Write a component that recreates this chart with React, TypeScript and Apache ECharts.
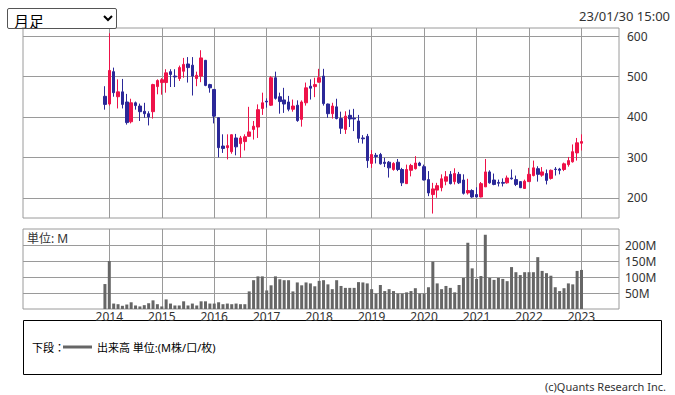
import React, { useEffect, useRef } from "react";
import * as echarts from "echarts";

const months = [
  "2013-12",
  "2014-01","2014-02","2014-03","2014-04","2014-05","2014-06","2014-07","2014-08","2014-09","2014-10","2014-11","2014-12",
  "2015-01","2015-02","2015-03","2015-04","2015-05","2015-06","2015-07","2015-08","2015-09","2015-10","2015-11","2015-12",
  "2016-01","2016-02","2016-03","2016-04","2016-05","2016-06","2016-07","2016-08","2016-09","2016-10","2016-11","2016-12",
  "2017-01","2017-02","2017-03","2017-04","2017-05","2017-06","2017-07","2017-08","2017-09","2017-10","2017-11","2017-12",
  "2018-01","2018-02","2018-03","2018-04","2018-05","2018-06","2018-07","2018-08","2018-09","2018-10","2018-11","2018-12",
  "2019-01","2019-02","2019-03","2019-04","2019-05","2019-06","2019-07","2019-08","2019-09","2019-10","2019-11","2019-12",
  "2020-01","2020-02","2020-03","2020-04","2020-05","2020-06","2020-07","2020-08","2020-09","2020-10","2020-11","2020-12",
  "2021-01","2021-02","2021-03","2021-04","2021-05","2021-06","2021-07","2021-08","2021-09","2021-10","2021-11","2021-12",
  "2022-01","2022-02","2022-03","2022-04","2022-05","2022-06","2022-07","2022-08","2022-09","2022-10","2022-11","2022-12",
  "2023-01",
];

const opens = [
  451,
  432, 512, 450, 462, 437, 388, 435, 427, 414, 408, 413, 475,
  485, 485, 512, 501, 495, 513, 531, 528, 495, 501, 540, 480,
  468, 398, 328, 324, 314, 348, 334, 339, 352, 369, 375, 421,
  439, 429, 497, 450, 442, 437, 419, 429, 394, 435, 476, 475,
  486, 501, 432, 408, 425, 396, 369, 404, 397, 390, 348, 352,
  285, 305, 307, 288, 288, 270, 288, 270, 235, 268, 272, 286,
  277, 245, 208, 219, 225, 241, 258, 240, 258, 244, 212, 218,
  208, 202, 227, 264, 244, 238, 238, 237, 249, 245, 240, 223,
  240, 255, 272, 256, 260, 248, 271, 271, 270, 282, 289, 311,
  335,
];

const closes = [
  431,
  515, 460, 462, 431, 386, 435, 428, 413, 408, 400, 480, 490,
  492, 509, 505, 499, 522, 530, 522, 501, 503, 546, 478, 472,
  402, 324, 322, 329, 356, 326, 348, 351, 363, 377, 418, 435,
  437, 497, 446, 438, 432, 419, 427, 391, 437, 472, 471, 480,
  497, 433, 408, 427, 396, 372, 402, 395, 395, 347, 346, 292,
  307, 302, 284, 285, 274, 285, 270, 237, 270, 280, 286, 280,
  244, 212, 222, 230, 247, 252, 235, 260, 237, 211, 218, 202,
  202, 235, 264, 237, 233, 236, 236, 249, 247, 233, 225, 241,
  258, 274, 258, 264, 243, 268, 270, 268, 284, 292, 314, 336,
  339,
];

const lows = [
  418,
  428, 450, 421, 421, 381, 384, 418, 390, 398, 379, 396, 456,
  455, 460, 474, 474, 489, 497, 485, 453, 476, 486, 476, 460,
  384, 300, 311, 295, 309, 305, 299, 317, 351, 344, 348, 405,
  423, 427, 443, 408, 410, 414, 413, 388, 376, 428, 443, 449,
  485, 428, 398, 396, 394, 358, 358, 375, 365, 336, 334, 274,
  274, 285, 282, 276, 250, 267, 266, 229, 235, 253, 270, 278,
  243, 204, 161, 200, 216, 231, 233, 233, 234, 208, 208, 200,
  201, 201, 227, 235, 231, 228, 228, 235, 245, 229, 224, 222,
  239, 253, 240, 252, 233, 245, 255, 258, 266, 277, 287, 292,
  317,
];

const highs = [
  476,
  607, 522, 493, 494, 457, 445, 438, 433, 435, 414, 482, 493,
  496, 518, 518, 518, 527, 546, 548, 548, 512, 565, 541, 482,
  469, 399, 357, 357, 357, 358, 353, 357, 425, 390, 431, 460,
  446, 501, 512, 460, 472, 452, 443, 441, 441, 485, 493, 497,
  519, 519, 433, 435, 445, 413, 414, 418, 420, 405, 355, 358,
  318, 311, 311, 299, 291, 288, 296, 274, 282, 284, 303, 289,
  282, 266, 237, 237, 258, 266, 266, 273, 264, 258, 247, 221,
  226, 239, 296, 268, 260, 245, 248, 255, 270, 255, 241, 245,
  274, 292, 278, 276, 270, 270, 276, 274, 287, 301, 332, 348,
  357,
];

// 出来高 (M)
const volumes = [
  78,
  150, 17, 15, 10, 14, 21, 11, 8, 12, 18, 27, 15,
  8, 30, 17, 11, 11, 24, 11, 17, 11, 24, 24, 17,
  17, 21, 15, 17, 15, 17, 15, 15, 55, 90, 102, 102,
  58, 74, 102, 93, 90, 90, 55, 83, 74, 83, 80, 71,
  88, 90, 77, 62, 90, 72, 66, 66, 66, 84, 83, 80,
  62, 48, 75, 56, 62, 56, 48, 48, 52, 56, 65, 48,
  48, 68, 148, 80, 62, 72, 66, 52, 75, 97, 207, 127,
  94, 103, 232, 97, 91, 97, 94, 87, 131, 115, 106, 115,
  115, 115, 162, 119, 112, 104, 68, 56, 65, 80, 77, 119,
  122,
];

const yearLabels = ["2014", "2015", "2016", "2017", "2018", "2019", "2020", "2021", "2022", "2023"];
const priceTicks = [200, 300, 400, 500, 600];
const volumeTicks = [50, 100, 150, 200];

const BASE_YEAR = 2014;
const monthIndex = (s: string) => {
  const [y, m] = s.split("-").map(Number);
  return (y - BASE_YEAR) * 12 + (m - 1);
};
const yearPositions = yearLabels.map((y) => monthIndex(`${y}-01`));

const UP = "#EE1249";
const DOWN = "#2B2898";
const GRID = "#9a9a9a";
const FONT = "'Noto Sans', 'Noto Sans CJK JP', sans-serif";

export default function App() {
  const ref = useRef<HTMLDivElement>(null);

  useEffect(() => {
    if (!ref.current) return;
    const chart = echarts.init(ref.current, undefined, { renderer: "svg" });

    const candleData = months.map((m, i) => [monthIndex(m), opens[i], closes[i], lows[i], highs[i]]);
    const volData = months.map((m, i) => [monthIndex(m), volumes[i]]);

    const xMin = -19.74;
    const xMax = 116.58;

    const xCommon = (gridIndex: number, showLabel: boolean) => ({
      type: "value",
      gridIndex,
      min: xMin,
      max: xMax,
      axisLine: { show: false },
      axisTick: { show: false, customValues: yearPositions },
      axisLabel: {
        show: showLabel,
        customValues: yearPositions,
        formatter: (v: number) => yearLabels[yearPositions.indexOf(Math.round(v))] ?? "",
        margin: 1,
        fontSize: 12,
        color: "#333",
        fontFamily: FONT,
      },
      splitLine: { show: true, lineStyle: { color: GRID, width: 1 } },
    });

    const option: any = {
      animation: false,
      grid: [
        { left: 23, top: 28, width: 596, height: 190, show: true, borderColor: GRID, borderWidth: 1 },
        { left: 23, top: 229, width: 596, height: 80, show: true, borderColor: GRID, borderWidth: 1 },
      ],
      xAxis: [xCommon(0, false), xCommon(1, true)],
      yAxis: [
        {
          type: "value",
          gridIndex: 0,
          position: "right",
          min: 150,
          max: 620,
          axisLine: { show: false },
          axisTick: { show: false, customValues: priceTicks },
          axisLabel: { customValues: priceTicks, margin: 8, fontSize: 12, color: "#333", fontFamily: FONT },
          splitLine: { show: true, lineStyle: { color: GRID, width: 1 } },
        },
        {
          type: "value",
          gridIndex: 1,
          position: "right",
          min: 0,
          max: 250,
          axisLine: { show: false },
          axisTick: { show: false, customValues: volumeTicks },
          axisLabel: {
            customValues: volumeTicks,
            formatter: (v: number) => `${v}M`,
            margin: 6,
            fontSize: 12,
            color: "#333",
            fontFamily: FONT,
          },
          splitLine: { show: true, lineStyle: { color: GRID, width: 1 } },
        },
      ],
      series: [
        {
          type: "candlestick",
          xAxisIndex: 0,
          yAxisIndex: 0,
          data: candleData,
          encode: { x: 0, y: [1, 2, 3, 4] },
          barWidth: 3,
          itemStyle: { color: UP, color0: DOWN, borderColor: UP, borderColor0: DOWN, borderWidth: 1 },
          silent: true,
        },
        {
          type: "bar",
          xAxisIndex: 1,
          yAxisIndex: 1,
          data: volData,
          barWidth: 3,
          itemStyle: { color: "#666666" },
          silent: true,
        },
      ],
      graphic: [
        {
          type: "text",
          left: 27,
          top: 232,
          style: { text: "単位: M", fontSize: 12, fill: "#333", fontFamily: FONT },
        },
        {
          type: "text",
          right: 5,
          top: 9,
          style: { text: "23/01/30 15:00", fontSize: 13, fill: "#333", fontFamily: FONT },
        },
        {
          type: "rect",
          shape: { x: 23.5, y: 320.5, width: 638, height: 54 },
          style: { fill: "#fff", stroke: "#000", lineWidth: 1 },
        },
        {
          type: "text",
          x: 32,
          y: 347,
          style: { text: "下段：", fontSize: 11, fill: "#000", fontFamily: FONT, verticalAlign: "middle" },
        },
        {
          type: "line",
          shape: { x1: 63, y1: 347, x2: 92, y2: 347 },
          style: { stroke: "#666", lineWidth: 3 },
        },
        {
          type: "text",
          x: 97,
          y: 347,
          style: { text: "出来高 単位:(M株/口/枚)", fontSize: 11, fill: "#000", fontFamily: FONT, verticalAlign: "middle" },
        },
        {
          type: "text",
          x: 666,
          y: 386,
          style: {
            text: "(c)Quants Research Inc.",
            fontSize: 11,
            fill: "#333",
            fontFamily: FONT,
            align: "right",
            verticalAlign: "middle",
          },
        },
      ],
    };

    chart.setOption(option);
    return () => chart.dispose();
  }, []);

  return (
    <div style={{ position: "absolute", left: 0, top: 0, width: 675, height: 395, background: "#fff" }}>
      <div ref={ref} style={{ position: "absolute", left: 0, top: 0, width: 675, height: 395 }} />
      <select
        defaultValue="month"
        style={{
          position: "absolute",
          left: 7,
          top: 8,
          width: 110,
          height: 21,
          fontSize: 15,
          fontFamily: "'Noto Sans CJK JP', sans-serif",
          border: "1px solid #555",
          borderRadius: 2,
          background: "#fff",
          padding: "0 2px",
        }}
      >
        <option value="month">月足</option>
      </select>
    </div>
  );
}
